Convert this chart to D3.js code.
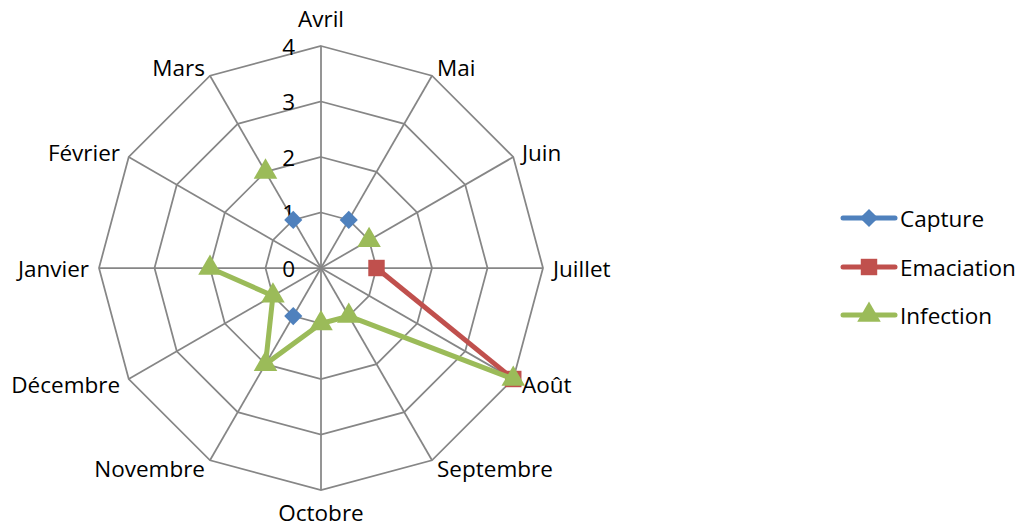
<!DOCTYPE html>
<html><head><meta charset="utf-8">
<script src="https://cdn.jsdelivr.net/npm/d3@7"></script>
<style>html,body{margin:0;padding:0;background:#fff;}svg{display:block;}</style>
</head><body>
<svg id="chart" width="1031" height="528"></svg>
<script>
const categories = ["Avril","Mai","Juin","Juillet","Août","Septembre","Octobre","Novembre","Décembre","Janvier","Février","Mars"];
const tickValues = [0,1,2,3,4];
const capture    = [null,1,null,null,null,null,null,1,null,null,null,1];
const emaciation = [null,null,null,1,4,null,null,null,null,null,null,null];
const infection  = [null,null,1,null,4,1,1,2,1,2,null,2];
const seriesNames = ["Capture","Emaciation","Infection"];
const seriesColors = ["#4F81BD","#C0504D","#9BBB59"];
const seriesMarkers = ["diamond","square","triangle"];

const svg = d3.select("#chart");
const font = "'Open Sans', sans-serif";
const cx = 321, cy = 268, R = 222;
const r = d3.scaleLinear().domain([0,4]).range([0,R]);
const ang = d3.scaleLinear().domain([0,categories.length]).range([0, 2*Math.PI]);
const pt = (i,v) => [cx + r(v)*Math.sin(ang(i)), cy - r(v)*Math.cos(ang(i))];

const g = svg.append("g");
tickValues.filter(t => t>0).forEach(t => {
  g.append("polygon")
    .attr("points", categories.map((c,i) => pt(i,t).join(",")).join(" "))
    .attr("fill","none").attr("stroke","#868686").attr("stroke-width",1.75);
});
categories.forEach((c,i) => {
  const p = pt(i,4);
  g.append("line").attr("x1",cx).attr("y1",cy).attr("x2",p[0]).attr("y2",p[1])
    .attr("stroke","#868686").attr("stroke-width",1.75);
});
categories.forEach((c,i) => {
  const a = ang(i);
  const sx = Math.sin(a), cy_ = Math.cos(a);
  let x = cx + (R+10)*sx, y = cy - (R+10)*cy_;
  let anchor = "middle";
  if (sx > 0.01) anchor = "start"; else if (sx < -0.01) anchor = "end";
  if (Math.abs(sx) < 0.01) y += (cy_ > 0 ? -18 : 12);
  g.append("text").attr("x",x).attr("y",y).attr("text-anchor",anchor)
    .attr("dominant-baseline","central")
    .style("font-family",font).style("font-size","22.5px").attr("fill","#000").text(c);
});
tickValues.forEach(t => {
  g.append("text").attr("x",295).attr("y",cy - r(t)).attr("text-anchor","end")
    .attr("dominant-baseline","central")
    .style("font-family",font).style("font-size","22.5px").attr("fill","#000").text(t);
});

const markerPath = m => m==="diamond" ? d3.symbol().type(d3.symbolSquare).size(165)()
  : m==="square" ? d3.symbol().type(d3.symbolSquare).size(270)()
  : d3.symbol().type(d3.symbolTriangle).size(240)();
const markerRot = m => m==="diamond" ? " rotate(45)" : "";

const allSeries = [capture, emaciation, infection];
const line = d3.line().defined(d => d.v != null).x(d => pt(d.i,d.v)[0]).y(d => pt(d.i,d.v)[1]);
allSeries.forEach((vals, s) => {
  const data = vals.map((v,i) => ({i, v}));
  g.append("path").attr("d", line(data)).attr("fill","none")
    .attr("stroke", seriesColors[s]).attr("stroke-width",5).attr("stroke-linejoin","round");
  data.filter(d => d.v != null).forEach(d => {
    const p = pt(d.i,d.v);
    g.append("path").attr("d", markerPath(seriesMarkers[s]))
      .attr("transform", `translate(${p[0]},${p[1]})${markerRot(seriesMarkers[s])}`)
      .attr("fill", seriesColors[s]);
  });
});

const legY = [218, 267, 315];
seriesNames.forEach((n,s) => {
  const lg = svg.append("g").attr("transform", `translate(0,${legY[s]})`);
  lg.append("line").attr("x1",843).attr("x2",895).attr("y1",0).attr("y2",0)
    .attr("stroke",seriesColors[s]).attr("stroke-width",5).attr("stroke-linecap","round");
  lg.append("path").attr("d", markerPath(seriesMarkers[s]))
    .attr("transform", `translate(869,0)${markerRot(seriesMarkers[s])}`).attr("fill",seriesColors[s]);
  lg.append("text").attr("x",900).attr("y",0).attr("dominant-baseline","central")
    .style("font-family",font).style("font-size","22.5px").attr("fill","#000").text(n);
});
</script>
</body></html>
